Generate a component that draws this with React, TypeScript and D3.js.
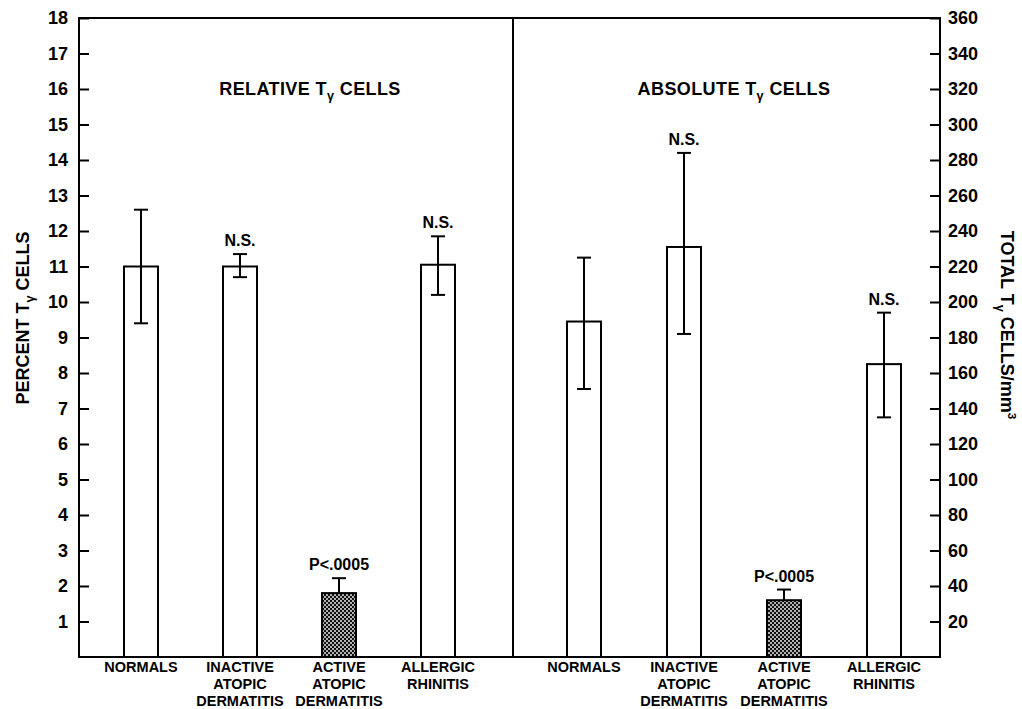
import React, { useRef, useEffect } from 'react';
import * as d3 from 'd3';

// categories shared by both panels
const categories = ['NORMALS', 'INACTIVE ATOPIC DERMATITIS', 'ACTIVE ATOPIC DERMATITIS', 'ALLERGIC RHINITIS'];
const categoryLines = [['NORMALS'], ['INACTIVE', 'ATOPIC', 'DERMATITIS'], ['ACTIVE', 'ATOPIC', 'DERMATITIS'], ['ALLERGIC', 'RHINITIS']];

// relative Ty cells (percent)
const relMean = [11.0, 11.0, 1.8, 11.05];
const relLow = [9.4, 10.7, 1.8, 10.2];
const relHigh = [12.6, 11.35, 2.22, 11.85];
const relNotes = ['', 'N.S.', 'P<.0005', 'N.S.'];

// absolute Ty cells (cells/mm3)
const absMean = [189, 231, 32, 165];
const absLow = [151, 182, 32, 135];
const absHigh = [225, 284, 38, 194];
const absNotes = ['', 'N.S.', 'P<.0005', 'N.S.'];

const leftTicks = d3.range(1, 19);
const rightTicks = d3.range(20, 361, 20);

const W = 1022;
const H = 709;
const FONT = '"Liberation Sans", Arial, Helvetica, sans-serif';

const App = () => {
  const svgRef = useRef<SVGSVGElement>(null);

  useEffect(() => {
    const svg = d3.select(svgRef.current);
    svg.selectAll('*').remove();

    const x0 = 79, x1 = 940, xMid = 513;
    const yTop = 18, yBot = 657;

    const yLeft = d3.scaleLinear().domain([0, 18]).range([yBot, yTop]);
    const yRight = d3.scaleLinear().domain([0, 360]).range([yBot, yTop]);

    const xLeftPanel = d3.scalePoint<string>().domain(categories).range([x0 + 62, xMid - 75]);
    const xRightPanel = d3.scalePoint<string>().domain(categories).range([xMid + 71, x1 - 56]);

    // dotted fill for the active dermatitis bars
    const defs = svg.append('defs');
    const pat = defs.append('pattern')
      .attr('id', 'dots')
      .attr('patternUnits', 'userSpaceOnUse')
      .attr('width', 4)
      .attr('height', 4);
    pat.append('rect').attr('width', 4).attr('height', 4).attr('fill', '#111');
    pat.append('circle').attr('cx', 1).attr('cy', 1).attr('r', 0.9).attr('fill', '#fff');
    pat.append('circle').attr('cx', 3).attr('cy', 3).attr('r', 0.9).attr('fill', '#fff');

    svg.append('rect').attr('width', W).attr('height', H).attr('fill', '#fff');

    // frame and divider
    svg.append('rect')
      .attr('x', x0).attr('y', yTop)
      .attr('width', x1 - x0).attr('height', yBot - yTop)
      .attr('fill', 'none').attr('stroke', '#000').attr('stroke-width', 2);
    svg.append('line')
      .attr('x1', xMid).attr('x2', xMid).attr('y1', yTop).attr('y2', yBot)
      .attr('stroke', '#000').attr('stroke-width', 2);

    // axes, ticks pointing inward
    const la = svg.append('g')
      .attr('transform', `translate(${x0},0)`)
      .call(d3.axisLeft(yLeft).tickValues(leftTicks).tickSize(-10).tickPadding(11).tickFormat(d3.format('d')));
    const ra = svg.append('g')
      .attr('transform', `translate(${x1},0)`)
      .call(d3.axisRight(yRight).tickValues(rightTicks).tickSize(-10).tickPadding(8).tickFormat(d3.format('d')));
    [la, ra].forEach(a => {
      a.select('.domain').remove();
      a.selectAll('line').attr('stroke', '#000').attr('stroke-width', 2);
      a.selectAll('text')
        .attr('font-family', FONT)
        .attr('font-weight', 'bold')
        .attr('font-size', 18)
        .attr('fill', '#000');
    });

    const drawPanel = (
      xs: d3.ScalePoint<string>, ys: d3.ScaleLinear<number, number>,
      mean: number[], low: number[], high: number[], notes: string[]
    ) => {
      const bw = 34;
      const g = svg.append('g');
      categories.forEach((c, i) => {
        const cx = xs(c) as number;
        const filled = i === 2;
        g.append('rect')
          .attr('x', cx - bw / 2).attr('y', ys(mean[i]))
          .attr('width', bw).attr('height', yBot - ys(mean[i]))
          .attr('fill', filled ? 'url(#dots)' : '#fff')
          .attr('stroke', '#000').attr('stroke-width', 2);
        const lo = filled ? mean[i] : low[i];
        g.append('line')
          .attr('x1', cx).attr('x2', cx).attr('y1', ys(lo)).attr('y2', ys(high[i]))
          .attr('stroke', '#000').attr('stroke-width', 2);
        [high[i], lo].forEach((v, k) => {
          if (filled && k === 1) return;
          g.append('line')
            .attr('x1', cx - 7).attr('x2', cx + 7).attr('y1', ys(v)).attr('y2', ys(v))
            .attr('stroke', '#000').attr('stroke-width', 2);
        });
        if (notes[i]) {
          g.append('text')
            .attr('x', cx).attr('y', ys(high[i]) - 8)
            .attr('text-anchor', 'middle')
            .attr('font-family', FONT).attr('font-weight', 'bold')
            .attr('font-size', 16)
            .text(notes[i]);
        }
        categoryLines[i].forEach((t, j) => {
          g.append('text')
            .attr('x', cx).attr('y', 672 + j * 17)
            .attr('text-anchor', 'middle')
            .attr('font-family', FONT).attr('font-weight', 'bold')
            .attr('font-size', 14.5)
            .text(t);
        });
      });
    };

    drawPanel(xLeftPanel, yLeft, relMean, relLow, relHigh, relNotes);
    drawPanel(xRightPanel, yRight, absMean, absLow, absHigh, absNotes);

    // titles with subscript gamma
    const subText = (sel: any, before: string, after: string, size: number, sup?: string) => {
      sel.append('tspan').text(before);
      sel.append('tspan').attr('font-size', size * 0.7).attr('dy', size * 0.3).text('γ');
      sel.append('tspan').attr('dy', -size * 0.3).text(after);
      if (sup) sel.append('tspan').attr('font-size', size * 0.65).attr('dy', -size * 0.4).text(sup);
    };

    const titleAt = (x: number, before: string) => {
      const t = svg.append('text').attr('x', x).attr('y', 95).attr('text-anchor', 'middle')
        .attr('font-family', FONT).attr('font-weight', 'bold').attr('font-size', 18)
        .attr('letter-spacing', 0.4);
      subText(t, before, ' CELLS', 18);
    };
    titleAt(310, 'RELATIVE T');
    titleAt(734, 'ABSOLUTE  T');

    const ly = svg.append('text')
      .attr('transform', 'translate(29,318) rotate(-90)')
      .attr('text-anchor', 'middle')
      .attr('font-family', FONT).attr('font-weight', 'bold').attr('font-size', 18);
    subText(ly, 'PERCENT T', ' CELLS', 18);

    const ry = svg.append('text')
      .attr('transform', 'translate(1001,325) rotate(90)')
      .attr('text-anchor', 'middle')
      .attr('font-family', FONT).attr('font-weight', 'bold').attr('font-size', 18);
    subText(ry, 'TOTAL T', ' CELLS/mm', 18, '3');
  }, []);

  return (
    <svg ref={svgRef} width={W} height={H}
      style={{ position: 'absolute', left: 0, top: 0, display: 'block' }}></svg>
  );
};

export default App;
